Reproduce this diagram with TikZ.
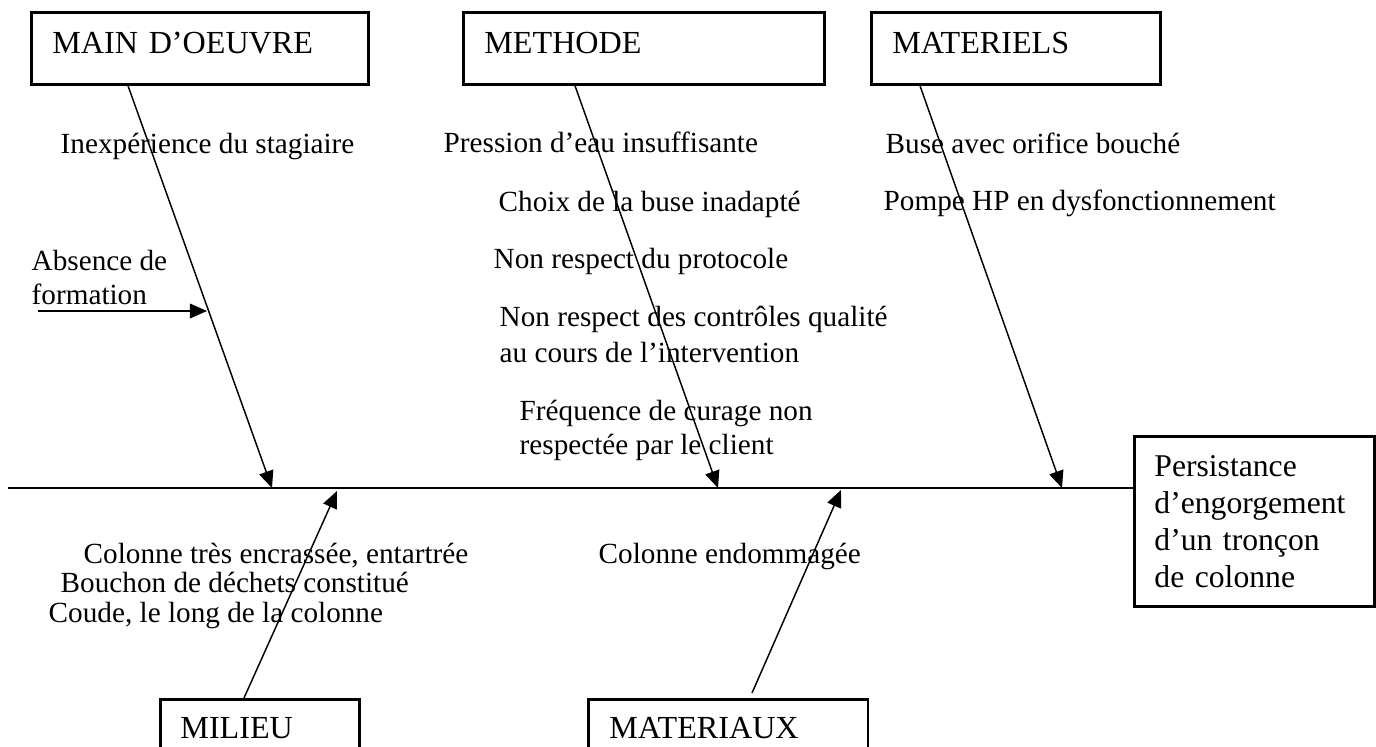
\documentclass[tikz,border=0pt]{standalone}
\usepackage{fontspec}
\setmainfont{Liberation Serif}
\usetikzlibrary{arrows.meta, calc}

\begin{document}
\begin{tikzpicture}[x=0.4107pt, y=-0.4107pt,
                >={Triangle[length=7pt,width=6pt]},
                semithick,
                every node/.style={font=\fontsize{12}{14.5}\selectfont, inner sep=0pt},
                cat/.style={draw, very thick, anchor=north west, align=left,
                            inner xsep=8.6pt, inner ysep=0pt,
                            font=\fontsize{13.2}{15}\selectfont,
                            text height=16.8pt, text depth=12.7pt},
                cause/.style={anchor=base west, align=left},
                effet/.style={draw, very thick, anchor=north west, align=left,
                              text width=82.1pt, inner xsep=8.2pt,
                              minimum height=69.8pt,
                              font=\fontsize{13}{15.2}\selectfont},
                spine/.style={very thick}
                ]
                \clip (0,0) rectangle (1376,747);

                % Nodes
                \node[cat, text width=121.2pt] (mo) at (30,11) {MAIN D’OEUVRE};
                \node[cat, text width=131.0pt] (meth) at (462,11) {METHODE};
                \node[cat, text width=101.5pt] (mat) at (870,11) {MATERIELS};
                \node[cat, text width=65.3pt, inner xsep=8.2pt, text height=16pt] (mil) at (159,698) {MILIEU};
                \node[cat, text width=97.6pt, text height=16pt] (matx) at (587,698) {MATERIAUX};
                \node[effet] (res) at (1133,435) {Persistance\\ d’engorgement\\ d’un tronçon\\ de colonne};

                \node[cause] (c1) at (60,154) {Inexpérience du stagiaire};
                \node[cause] (c2) at (31,304) {Absence de\\[-0.6pt] formation};
                \node[cause] (c3) at (443,153) {Pression d’eau insuffisante};
                \node[cause] (c4) at (498,212) {Choix de la buse inadapté};
                \node[cause] (c5) at (493,269) {Non respect du protocole};
                \node[cause] (c6) at (499,362) {Non respect des contrôles qualité\\ au cours de l’intervention};
                \node[cause] (c7) at (519,454) {Fréquence de curage non\\[-0.6pt] respectée par le client};
                \node[cause] (c8) at (885,154) {Buse avec orifice bouché};
                \node[cause] (c9) at (883,211) {Pompe HP en dysfonctionnement};
                \node[cause] (c10) at (83,563) {Colonne très encrassée, entartrée};
                \node[cause] (c11) at (60,592) {Bouchon de déchets constitué};
                \node[cause] (c12) at (48,622) {Coude, le long de la colonne};
                \node[cause] (c13) at (598,563) {Colonne endommagée};

                % Points on the spine
                \coordinate (start) at (8,488);
                \coordinate (t-mo) at (272,488);
                \coordinate (t-meth) at (718,488);
                \coordinate (t-mat) at (1062,488);
                \coordinate (t-mil) at (337,491);
                \coordinate (t-matx) at (841,490);
                \coordinate (f-abs) at (38,311);
                \coordinate (t-abs) at (207,311);

                % Paths
                \draw[spine] (start) -- (start -| res.west);
                \draw[->] ($(mo.south west)+(98,0)$) -- (t-mo);
                \draw[->] ($(meth.south west)+(113,0)$) -- (t-meth);
                \draw[->] ($(mat.south west)+(50,0)$) -- (t-mat);
                \draw[->] ($(mil.north west)+(85,0)$) -- (t-mil);
                \draw[->] ($(matx.north west)+(165,-5)$) -- (t-matx);
                \draw[->] (f-abs) -- (t-abs);
\end{tikzpicture}
\end{document}
